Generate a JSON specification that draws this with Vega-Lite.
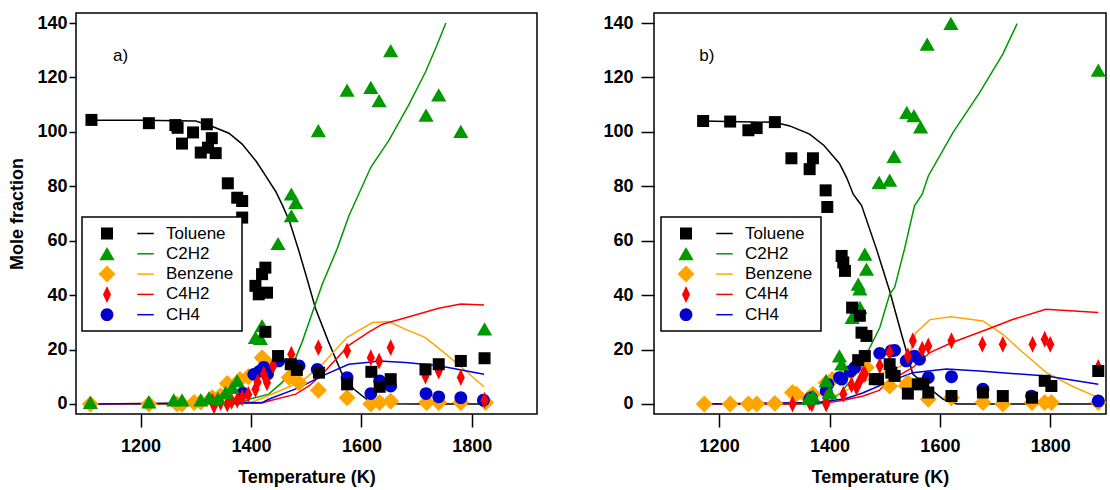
{
  "$schema": "https://vega.github.io/schema/vega-lite/v6.json",
  "background": "white",
  "padding": {"left": 8, "top": 12, "right": 0, "bottom": 0},
  "spacing": 64,
  "config": {
    "view": {"stroke": "black", "strokeWidth": 1.5},
    "axis": {"grid": false, "domain": false, "tickColor": "black", "tickWidth": 1.5, "tickSize": 13,
      "labelFont": "Liberation Sans", "labelFontWeight": "bold", "labelFontSize": 18, "labelColor": "black",
      "titleFont": "Liberation Sans", "titleFontWeight": "bold", "titleFontSize": 18, "titleColor": "black"},
    "legend": {"strokeWidth": 1.5},
    "text": {"font": "Liberation Sans", "fontSize": 17, "color": "black"}
  },
  "datasets": {
    "a_pts": [
      {"s":"Benzene","T":1109,"v":0},{"s":"Benzene","T":1215,"v":0},{"s":"Benzene","T":1266,"v":0},{"s":"Benzene","T":1275,"v":0},{"s":"Benzene","T":1297,"v":0.5},{"s":"Benzene","T":1309,"v":0.7},{"s":"Benzene","T":1330,"v":2.3},{"s":"Benzene","T":1345,"v":3},{"s":"Benzene","T":1357,"v":7.5},{"s":"Benzene","T":1380,"v":9},{"s":"Benzene","T":1395,"v":10},{"s":"Benzene","T":1420,"v":17},{"s":"Benzene","T":1435,"v":14},{"s":"Benzene","T":1469,"v":9.7},{"s":"Benzene","T":1487,"v":7.8},{"s":"Benzene","T":1522,"v":5},{"s":"Benzene","T":1574,"v":2.3},{"s":"Benzene","T":1617,"v":0},{"s":"Benzene","T":1633,"v":0.5},{"s":"Benzene","T":1653,"v":1},{"s":"Benzene","T":1718,"v":0.5},{"s":"Benzene","T":1740,"v":0.5},{"s":"Benzene","T":1780,"v":0.5},{"s":"Benzene","T":1825,"v":0.5},
      {"s":"CH4","T":1385,"v":4},{"s":"CH4","T":1405,"v":10.9},{"s":"CH4","T":1415,"v":12},{"s":"CH4","T":1423,"v":13.4},{"s":"CH4","T":1430,"v":11},{"s":"CH4","T":1450,"v":15.8},{"s":"CH4","T":1481,"v":14},{"s":"CH4","T":1487,"v":14},{"s":"CH4","T":1520,"v":12.7},{"s":"CH4","T":1574,"v":9.7},{"s":"CH4","T":1617,"v":3.8},{"s":"CH4","T":1633,"v":8.5},{"s":"CH4","T":1653,"v":6.6},{"s":"CH4","T":1717,"v":3.8},{"s":"CH4","T":1740,"v":2.6},{"s":"CH4","T":1780,"v":2.3},{"s":"CH4","T":1821,"v":1.4},
      {"s":"C4H2","T":1330,"v":1},{"s":"C4H2","T":1333,"v":-0.7},{"s":"C4H2","T":1345,"v":0.5},{"s":"C4H2","T":1357,"v":0},{"s":"C4H2","T":1365,"v":1},{"s":"C4H2","T":1375,"v":1.4},{"s":"C4H2","T":1384,"v":2.3},{"s":"C4H2","T":1395,"v":3.5},{"s":"C4H2","T":1408,"v":5.4},{"s":"C4H2","T":1412,"v":8},{"s":"C4H2","T":1423,"v":10.9},{"s":"C4H2","T":1429,"v":7.8},{"s":"C4H2","T":1440,"v":14},{"s":"C4H2","T":1473,"v":18.3},{"s":"C4H2","T":1522,"v":20.7},{"s":"C4H2","T":1574,"v":19.5},{"s":"C4H2","T":1617,"v":17},{"s":"C4H2","T":1632,"v":15.8},{"s":"C4H2","T":1653,"v":20.7},{"s":"C4H2","T":1716,"v":10.3},{"s":"C4H2","T":1740,"v":12.1},{"s":"C4H2","T":1780,"v":9.7},{"s":"C4H2","T":1823,"v":1.4},
      {"s":"C2H2","T":1109,"v":0.5},{"s":"C2H2","T":1215,"v":0.7},{"s":"C2H2","T":1260,"v":1.4},{"s":"C2H2","T":1275,"v":1.4},{"s":"C2H2","T":1309,"v":1.4},{"s":"C2H2","T":1324,"v":2.3},{"s":"C2H2","T":1340,"v":2},{"s":"C2H2","T":1354,"v":4.2},{"s":"C2H2","T":1366,"v":6},{"s":"C2H2","T":1375,"v":8.5},{"s":"C2H2","T":1408,"v":24.4},{"s":"C2H2","T":1417,"v":24},{"s":"C2H2","T":1420,"v":28.7},{"s":"C2H2","T":1449,"v":58.9},{"s":"C2H2","T":1473,"v":69.1},{"s":"C2H2","T":1481,"v":74},{"s":"C2H2","T":1473,"v":77.1},{"s":"C2H2","T":1522,"v":100.4},{"s":"C2H2","T":1574,"v":115.3},{"s":"C2H2","T":1617,"v":116.3},{"s":"C2H2","T":1632,"v":111.4},{"s":"C2H2","T":1653,"v":129.8},{"s":"C2H2","T":1717,"v":106.1},{"s":"C2H2","T":1740,"v":113.5},{"s":"C2H2","T":1780,"v":100.1},{"s":"C2H2","T":1823,"v":27.5},
      {"s":"Toluene","T":1111,"v":104.4},{"s":"Toluene","T":1215,"v":103.2},{"s":"Toluene","T":1263,"v":102.5},{"s":"Toluene","T":1267,"v":101.5},{"s":"Toluene","T":1275,"v":95.7},{"s":"Toluene","T":1295,"v":99.8},{"s":"Toluene","T":1320,"v":102.8},{"s":"Toluene","T":1329,"v":97.7},{"s":"Toluene","T":1309,"v":92.4},{"s":"Toluene","T":1322,"v":94.2},{"s":"Toluene","T":1336,"v":92.2},{"s":"Toluene","T":1358,"v":81.1},{"s":"Toluene","T":1375,"v":75.8},{"s":"Toluene","T":1384,"v":74.6},{"s":"Toluene","T":1384,"v":68.5},{"s":"Toluene","T":1426,"v":50.1},{"s":"Toluene","T":1420,"v":47.7},{"s":"Toluene","T":1408,"v":43.4},{"s":"Toluene","T":1414,"v":40.3},{"s":"Toluene","T":1429,"v":40.9},{"s":"Toluene","T":1426,"v":26.5},{"s":"Toluene","T":1449,"v":17.6},{"s":"Toluene","T":1472,"v":14.6},{"s":"Toluene","T":1483,"v":12.5},{"s":"Toluene","T":1523,"v":11.5},{"s":"Toluene","T":1574,"v":7.2},{"s":"Toluene","T":1618,"v":11.8},{"s":"Toluene","T":1633,"v":6.3},{"s":"Toluene","T":1653,"v":9.1},{"s":"Toluene","T":1716,"v":12.7},{"s":"Toluene","T":1740,"v":14.6},{"s":"Toluene","T":1780,"v":15.8},{"s":"Toluene","T":1823,"v":16.8}
    ],
    "a_lines": [
      {"s":"Toluene","T":1110,"v":104.3},{"s":"Toluene","T":1200,"v":104.3},{"s":"Toluene","T":1300,"v":104},{"s":"Toluene","T":1330,"v":102},{"s":"Toluene","T":1360,"v":99.5},{"s":"Toluene","T":1384,"v":95.5},{"s":"Toluene","T":1410,"v":89},{"s":"Toluene","T":1426,"v":84},{"s":"Toluene","T":1445,"v":78},{"s":"Toluene","T":1457,"v":73},{"s":"Toluene","T":1470,"v":67},{"s":"Toluene","T":1487,"v":56},{"s":"Toluene","T":1500,"v":47},{"s":"Toluene","T":1517,"v":35},{"s":"Toluene","T":1540,"v":23},{"s":"Toluene","T":1565,"v":11},{"s":"Toluene","T":1586,"v":5.5},{"s":"Toluene","T":1617,"v":0.5},{"s":"Toluene","T":1650,"v":0.1},{"s":"Toluene","T":1700,"v":0},{"s":"Toluene","T":1823,"v":0},
      {"s":"C2H2","T":1110,"v":0},{"s":"C2H2","T":1380,"v":0},{"s":"C2H2","T":1396,"v":1.7},{"s":"C2H2","T":1432,"v":3.6},{"s":"C2H2","T":1457,"v":8},{"s":"C2H2","T":1475,"v":14},{"s":"C2H2","T":1493,"v":23},{"s":"C2H2","T":1529,"v":44},{"s":"C2H2","T":1556,"v":57},{"s":"C2H2","T":1577,"v":69},{"s":"C2H2","T":1617,"v":87},{"s":"C2H2","T":1650,"v":97},{"s":"C2H2","T":1686,"v":110},{"s":"C2H2","T":1716,"v":122},{"s":"C2H2","T":1735,"v":131},{"s":"C2H2","T":1753,"v":140},
      {"s":"Benzene","T":1110,"v":0},{"s":"Benzene","T":1400,"v":0.5},{"s":"Benzene","T":1445,"v":4.2},{"s":"Benzene","T":1493,"v":8.5},{"s":"Benzene","T":1529,"v":14.6},{"s":"Benzene","T":1574,"v":24.5},{"s":"Benzene","T":1620,"v":29.9},{"s":"Benzene","T":1650,"v":30.3},{"s":"Benzene","T":1680,"v":27.4},{"s":"Benzene","T":1716,"v":24.4},{"s":"Benzene","T":1753,"v":18.3},{"s":"Benzene","T":1789,"v":12.1},{"s":"Benzene","T":1822,"v":6.3},
      {"s":"C4H2","T":1110,"v":0},{"s":"C4H2","T":1420,"v":0.3},{"s":"C4H2","T":1432,"v":1.1},{"s":"C4H2","T":1481,"v":3.6},{"s":"C4H2","T":1505,"v":6.6},{"s":"C4H2","T":1529,"v":10.9},{"s":"C4H2","T":1577,"v":21.5},{"s":"C4H2","T":1614,"v":26.5},{"s":"C4H2","T":1638,"v":29.3},{"s":"C4H2","T":1680,"v":31.7},{"s":"C4H2","T":1740,"v":35.2},{"s":"C4H2","T":1780,"v":36.7},{"s":"C4H2","T":1822,"v":36.4},
      {"s":"CH4","T":1110,"v":0},{"s":"CH4","T":1420,"v":0.5},{"s":"CH4","T":1432,"v":1.7},{"s":"CH4","T":1487,"v":6},{"s":"CH4","T":1529,"v":10.3},{"s":"CH4","T":1577,"v":14.6},{"s":"CH4","T":1614,"v":15.3},{"s":"CH4","T":1632,"v":15.8},{"s":"CH4","T":1680,"v":15.2},{"s":"CH4","T":1740,"v":14},{"s":"CH4","T":1822,"v":10.9}
    ],
    "b_pts": [
      {"s":"Benzene","T":1173,"v":0},{"s":"Benzene","T":1220,"v":0},{"s":"Benzene","T":1253,"v":0},{"s":"Benzene","T":1268,"v":0},{"s":"Benzene","T":1301,"v":0.2},{"s":"Benzene","T":1333,"v":4.2},{"s":"Benzene","T":1340,"v":3.6},{"s":"Benzene","T":1362,"v":2},{"s":"Benzene","T":1370,"v":3.6},{"s":"Benzene","T":1394,"v":7.8},{"s":"Benzene","T":1405,"v":9},{"s":"Benzene","T":1425,"v":10.3},{"s":"Benzene","T":1440,"v":12},{"s":"Benzene","T":1467,"v":13.4},{"s":"Benzene","T":1509,"v":6.6},{"s":"Benzene","T":1539,"v":6.6},{"s":"Benzene","T":1542,"v":7.8},{"s":"Benzene","T":1579,"v":1.7},{"s":"Benzene","T":1621,"v":2.3},{"s":"Benzene","T":1678,"v":0.5},{"s":"Benzene","T":1714,"v":0},{"s":"Benzene","T":1767,"v":0.5},{"s":"Benzene","T":1790,"v":0.5},{"s":"Benzene","T":1802,"v":0.5},{"s":"Benzene","T":1887,"v":0.5},
      {"s":"CH4","T":1364,"v":1.7},{"s":"CH4","T":1367,"v":2.3},{"s":"CH4","T":1394,"v":4.8},{"s":"CH4","T":1397,"v":7.2},{"s":"CH4","T":1418,"v":9.7},{"s":"CH4","T":1422,"v":9.1},{"s":"CH4","T":1438,"v":12},{"s":"CH4","T":1446,"v":13.4},{"s":"CH4","T":1491,"v":18.6},{"s":"CH4","T":1512,"v":19.5},{"s":"CH4","T":1518,"v":19.7},{"s":"CH4","T":1539,"v":15.8},{"s":"CH4","T":1554,"v":17.6},{"s":"CH4","T":1563,"v":16.4},{"s":"CH4","T":1579,"v":9.7},{"s":"CH4","T":1621,"v":10},{"s":"CH4","T":1678,"v":5.4},{"s":"CH4","T":1766,"v":2.9},{"s":"CH4","T":1887,"v":1.1},
      {"s":"C4H4","T":1333,"v":0},{"s":"C4H4","T":1364,"v":0.5},{"s":"C4H4","T":1368,"v":0},{"s":"C4H4","T":1394,"v":0},{"s":"C4H4","T":1394,"v":2.3},{"s":"C4H4","T":1425,"v":3.6},{"s":"C4H4","T":1440,"v":7},{"s":"C4H4","T":1449,"v":6},{"s":"C4H4","T":1455,"v":8.5},{"s":"C4H4","T":1461,"v":10.9},{"s":"C4H4","T":1464,"v":10.9},{"s":"C4H4","T":1491,"v":14},{"s":"C4H4","T":1509,"v":19},{"s":"C4H4","T":1542,"v":17.6},{"s":"C4H4","T":1551,"v":23.2},{"s":"C4H4","T":1568,"v":20.1},{"s":"C4H4","T":1579,"v":21.3},{"s":"C4H4","T":1621,"v":23.2},{"s":"C4H4","T":1677,"v":21.9},{"s":"C4H4","T":1714,"v":21.9},{"s":"C4H4","T":1768,"v":21.9},{"s":"C4H4","T":1790,"v":23.8},{"s":"C4H4","T":1800,"v":21.9},{"s":"C4H4","T":1887,"v":13.4},
      {"s":"C2H2","T":1362,"v":2},{"s":"C2H2","T":1370,"v":2.9},{"s":"C2H2","T":1394,"v":8.5},{"s":"C2H2","T":1400,"v":4.2},{"s":"C2H2","T":1418,"v":17.6},{"s":"C2H2","T":1422,"v":14.6},{"s":"C2H2","T":1441,"v":31.7},{"s":"C2H2","T":1445,"v":33},{"s":"C2H2","T":1452,"v":44},{"s":"C2H2","T":1455,"v":42.2},{"s":"C2H2","T":1455,"v":35.4},{"s":"C2H2","T":1464,"v":55},{"s":"C2H2","T":1467,"v":49.5},{"s":"C2H2","T":1490,"v":81.4},{"s":"C2H2","T":1509,"v":82.2},{"s":"C2H2","T":1517,"v":90.9},{"s":"C2H2","T":1540,"v":107.1},{"s":"C2H2","T":1553,"v":105.9},{"s":"C2H2","T":1565,"v":101.8},{"s":"C2H2","T":1577,"v":132.2},{"s":"C2H2","T":1620,"v":139.8},{"s":"C2H2","T":1887,"v":122.6},
      {"s":"Toluene","T":1171,"v":104},{"s":"Toluene","T":1220,"v":103.8},{"s":"Toluene","T":1253,"v":100.6},{"s":"Toluene","T":1268,"v":101.4},{"s":"Toluene","T":1301,"v":103.6},{"s":"Toluene","T":1331,"v":90.3},{"s":"Toluene","T":1364,"v":86.3},{"s":"Toluene","T":1370,"v":90.3},{"s":"Toluene","T":1393,"v":78.5},{"s":"Toluene","T":1396,"v":72.4},{"s":"Toluene","T":1422,"v":54.4},{"s":"Toluene","T":1425,"v":52},{"s":"Toluene","T":1428,"v":48.9},{"s":"Toluene","T":1441,"v":35.4},{"s":"Toluene","T":1455,"v":32.4},{"s":"Toluene","T":1458,"v":26.2},{"s":"Toluene","T":1467,"v":25},{"s":"Toluene","T":1452,"v":16.1},{"s":"Toluene","T":1464,"v":17.6},{"s":"Toluene","T":1482,"v":9.1},{"s":"Toluene","T":1488,"v":9.1},{"s":"Toluene","T":1509,"v":14.6},{"s":"Toluene","T":1512,"v":11.5},{"s":"Toluene","T":1518,"v":10.3},{"s":"Toluene","T":1542,"v":3.8},{"s":"Toluene","T":1560,"v":7.2},{"s":"Toluene","T":1570,"v":7.5},{"s":"Toluene","T":1579,"v":4.2},{"s":"Toluene","T":1621,"v":2.9},{"s":"Toluene","T":1678,"v":4.2},{"s":"Toluene","T":1714,"v":2.9},{"s":"Toluene","T":1767,"v":2.3},{"s":"Toluene","T":1790,"v":8.5},{"s":"Toluene","T":1802,"v":6.6},{"s":"Toluene","T":1887,"v":12.1}
    ],
    "b_lines": [
      {"s":"Toluene","T":1171,"v":104},{"s":"Toluene","T":1301,"v":103.5},{"s":"Toluene","T":1328,"v":102.2},{"s":"Toluene","T":1364,"v":99.2},{"s":"Toluene","T":1390,"v":95},{"s":"Toluene","T":1418,"v":88.4},{"s":"Toluene","T":1431,"v":83.2},{"s":"Toluene","T":1443,"v":77.1},{"s":"Toluene","T":1452,"v":74.6},{"s":"Toluene","T":1458,"v":73},{"s":"Toluene","T":1485,"v":57},{"s":"Toluene","T":1509,"v":41.5},{"s":"Toluene","T":1530,"v":26},{"s":"Toluene","T":1551,"v":11},{"s":"Toluene","T":1576,"v":6.6},{"s":"Toluene","T":1606,"v":1.7},{"s":"Toluene","T":1631,"v":0},{"s":"Toluene","T":1887,"v":0},
      {"s":"C2H2","T":1171,"v":0},{"s":"C2H2","T":1380,"v":0},{"s":"C2H2","T":1400,"v":1},{"s":"C2H2","T":1420,"v":4},{"s":"C2H2","T":1440,"v":9},{"s":"C2H2","T":1455,"v":14},{"s":"C2H2","T":1473,"v":20.7},{"s":"C2H2","T":1491,"v":28},{"s":"C2H2","T":1509,"v":40.3},{"s":"C2H2","T":1518,"v":42.8},{"s":"C2H2","T":1536,"v":57},{"s":"C2H2","T":1554,"v":72.8},{"s":"C2H2","T":1568,"v":77.1},{"s":"C2H2","T":1579,"v":83.8},{"s":"C2H2","T":1624,"v":99.8},{"s":"C2H2","T":1672,"v":114.4},{"s":"C2H2","T":1714,"v":128.6},{"s":"C2H2","T":1740,"v":139.8},
      {"s":"Benzene","T":1171,"v":0},{"s":"Benzene","T":1380,"v":0.5},{"s":"Benzene","T":1400,"v":2},{"s":"Benzene","T":1430,"v":5},{"s":"Benzene","T":1460,"v":8},{"s":"Benzene","T":1490,"v":11},{"s":"Benzene","T":1509,"v":12.1},{"s":"Benzene","T":1530,"v":14},{"s":"Benzene","T":1545,"v":18},{"s":"Benzene","T":1556,"v":26},{"s":"Benzene","T":1582,"v":31},{"s":"Benzene","T":1620,"v":32},{"s":"Benzene","T":1678,"v":30.5},{"s":"Benzene","T":1714,"v":25.6},{"s":"Benzene","T":1750,"v":19},{"s":"Benzene","T":1793,"v":11.5},{"s":"Benzene","T":1840,"v":6.5},{"s":"Benzene","T":1887,"v":2.3},
      {"s":"C4H4","T":1171,"v":0},{"s":"C4H4","T":1340,"v":0},{"s":"C4H4","T":1400,"v":0.5},{"s":"C4H4","T":1430,"v":1.5},{"s":"C4H4","T":1461,"v":2.9},{"s":"C4H4","T":1490,"v":5},{"s":"C4H4","T":1509,"v":8.5},{"s":"C4H4","T":1551,"v":13.4},{"s":"C4H4","T":1582,"v":18.9},{"s":"C4H4","T":1621,"v":22.5},{"s":"C4H4","T":1678,"v":26.8},{"s":"C4H4","T":1733,"v":31.1},{"s":"C4H4","T":1792,"v":34.8},{"s":"C4H4","T":1887,"v":33.6},
      {"s":"CH4","T":1171,"v":0},{"s":"CH4","T":1380,"v":0.5},{"s":"CH4","T":1430,"v":2},{"s":"CH4","T":1460,"v":4},{"s":"CH4","T":1503,"v":7.8},{"s":"CH4","T":1551,"v":11.5},{"s":"CH4","T":1612,"v":12.8},{"s":"CH4","T":1672,"v":12.1},{"s":"CH4","T":1751,"v":10.9},{"s":"CH4","T":1793,"v":10.3},{"s":"CH4","T":1887,"v":7.2}
    ]
  },
  "hconcat": [
    {
      "width": 461, "height": 401,
      "layer": [
        {
          "data": {"name": "a_lines"},
          "mark": {"type": "line", "strokeWidth": 1.5},
          "encoding": {
            "x": {"field": "T", "type": "quantitative", "scale": {"domain": [1083, 1918], "nice": false, "zero": false}, "axis": {"values": [1200, 1400, 1600, 1800], "format": "d", "title": "Temperature (K)", "labelPadding": 10, "titlePadding": 13}},
            "y": {"field": "v", "type": "quantitative", "scale": {"domain": [-3.7, 143.7], "nice": false, "zero": false}, "axis": {"values": [0, 20, 40, 60, 80, 100, 120, 140], "title": "Mole fraction", "tickSize": 7, "labelPadding": 2, "titlePadding": 10}},
            "stroke": {"field": "s", "type": "nominal", "sort": ["Toluene", "C2H2", "Benzene", "C4H2", "CH4"],
              "scale": {"range": ["#000000", "#009900", "#FFA500", "#FF0000", "#0000DD"]},
              "legend": {"orient": "none", "legendX": 6, "legendY": 204, "title": null, "direction": "vertical", "symbolType": "M-2.06,0H2.06", "symbolSize": 64, "symbolStrokeWidth": 1.5, "symbolOffset": 47, "labelOffset": 12, "labelFontSize": 17, "labelFont": "Liberation Sans", "labelColor": "black", "rowPadding": 2.3, "padding": 8, "strokeColor": "black", "fillColor": "white"}}
          }
        },
        {
          "data": {"name": "a_pts"},
          "mark": {"type": "point", "filled": true, "opacity": 1, "size": 256, "strokeWidth": 0},
          "encoding": {
            "x": {"field": "T", "type": "quantitative"},
            "y": {"field": "v", "type": "quantitative"},
            "fill": {"field": "s", "type": "nominal",
              "scale": {"domain": ["Toluene", "C2H2", "Benzene", "C4H2", "CH4"], "range": ["#000000", "#009900", "#FFA500", "#FF0000", "#0000CC"]},
              "legend": {"orient": "none", "legendX": 6, "legendY": 204, "title": null, "direction": "vertical", "symbolSize": 256, "symbolStrokeWidth": 0, "symbolOffset": 8.5, "labelExpr": "''", "labelFontSize": 17, "labelFont": "Liberation Sans", "rowPadding": 2.3, "padding": 8}},
            "shape": {"field": "s", "type": "nominal",
              "scale": {"domain": ["Toluene", "C2H2", "Benzene", "C4H2", "CH4"], "range": ["M-0.75,-0.75H0.75V0.75H-0.75Z", "M0,-0.85L0.95,0.8L-0.95,0.8Z", "M0,-1.06L1.06,0L0,1.06L-1.06,0Z", "M0,-1.06L0.5,0L0,1.06L-0.5,0Z", "M0.8,0A0.8,0.8,0,1,1,-0.8,0A0.8,0.8,0,1,1,0.8,0Z"]},
              "legend": {"orient": "none", "legendX": 6, "legendY": 204, "title": null, "direction": "vertical", "symbolSize": 256, "symbolStrokeWidth": 0, "symbolOffset": 8.5, "labelExpr": "''", "labelFontSize": 17, "labelFont": "Liberation Sans", "rowPadding": 2.3, "padding": 8}}
          }
        },
        {
          "data": {"values": [{"T": 1150, "v": 128, "label": "a)"}]},
          "mark": {"type": "text", "align": "left", "baseline": "middle"},
          "encoding": {
            "x": {"field": "T", "type": "quantitative"},
            "y": {"field": "v", "type": "quantitative"},
            "text": {"field": "label"}
          }
        }
      ]
    },
    {
      "width": 452, "height": 401,
      "layer": [
        {
          "data": {"name": "b_lines"},
          "mark": {"type": "line", "strokeWidth": 1.5},
          "encoding": {
            "x": {"field": "T", "type": "quantitative", "scale": {"domain": [1082, 1901], "nice": false, "zero": false}, "axis": {"values": [1200, 1400, 1600, 1800], "format": "d", "title": "Temperature (K)", "labelPadding": 10, "titlePadding": 13}},
            "y": {"field": "v", "type": "quantitative", "scale": {"domain": [-3.7, 143.7], "nice": false, "zero": false}, "axis": {"values": [0, 20, 40, 60, 80, 100, 120, 140], "title": null, "labelPadding": 8}},
            "stroke": {"field": "s", "type": "nominal", "sort": ["Toluene", "C2H2", "Benzene", "C4H4", "CH4"],
              "scale": {"range": ["#000000", "#009900", "#FFA500", "#FF0000", "#0000DD"]},
              "legend": {"orient": "none", "legendX": 7, "legendY": 204, "title": null, "direction": "vertical", "symbolType": "M-2.06,0H2.06", "symbolSize": 64, "symbolStrokeWidth": 1.5, "symbolOffset": 47, "labelOffset": 12, "labelFontSize": 17, "labelFont": "Liberation Sans", "labelColor": "black", "rowPadding": 2.3, "padding": 8, "strokeColor": "black", "fillColor": "white"}}
          }
        },
        {
          "data": {"name": "b_pts"},
          "mark": {"type": "point", "filled": true, "opacity": 1, "size": 256, "strokeWidth": 0},
          "encoding": {
            "x": {"field": "T", "type": "quantitative"},
            "y": {"field": "v", "type": "quantitative"},
            "fill": {"field": "s", "type": "nominal",
              "scale": {"domain": ["Toluene", "C2H2", "Benzene", "C4H4", "CH4"], "range": ["#000000", "#009900", "#FFA500", "#FF0000", "#0000CC"]},
              "legend": {"orient": "none", "legendX": 7, "legendY": 204, "title": null, "direction": "vertical", "symbolSize": 256, "symbolStrokeWidth": 0, "symbolOffset": 8.5, "labelExpr": "''", "labelFontSize": 17, "labelFont": "Liberation Sans", "rowPadding": 2.3, "padding": 8}},
            "shape": {"field": "s", "type": "nominal",
              "scale": {"domain": ["Toluene", "C2H2", "Benzene", "C4H4", "CH4"], "range": ["M-0.75,-0.75H0.75V0.75H-0.75Z", "M0,-0.85L0.95,0.8L-0.95,0.8Z", "M0,-1.06L1.06,0L0,1.06L-1.06,0Z", "M0,-1.06L0.5,0L0,1.06L-0.5,0Z", "M0.8,0A0.8,0.8,0,1,1,-0.8,0A0.8,0.8,0,1,1,0.8,0Z"]},
              "legend": {"orient": "none", "legendX": 7, "legendY": 204, "title": null, "direction": "vertical", "symbolSize": 256, "symbolStrokeWidth": 0, "symbolOffset": 8.5, "labelExpr": "''", "labelFontSize": 17, "labelFont": "Liberation Sans", "rowPadding": 2.3, "padding": 8}}
          }
        },
        {
          "data": {"values": [{"T": 1164, "v": 128, "label": "b)"}]},
          "mark": {"type": "text", "align": "left", "baseline": "middle"},
          "encoding": {
            "x": {"field": "T", "type": "quantitative"},
            "y": {"field": "v", "type": "quantitative"},
            "text": {"field": "label"}
          }
        }
      ]
    }
  ],
  "resolve": {
    "scale": {"fill": "independent", "shape": "independent", "stroke": "independent"},
    "legend": {"fill": "independent", "shape": "independent", "stroke": "independent"}
  }
}
